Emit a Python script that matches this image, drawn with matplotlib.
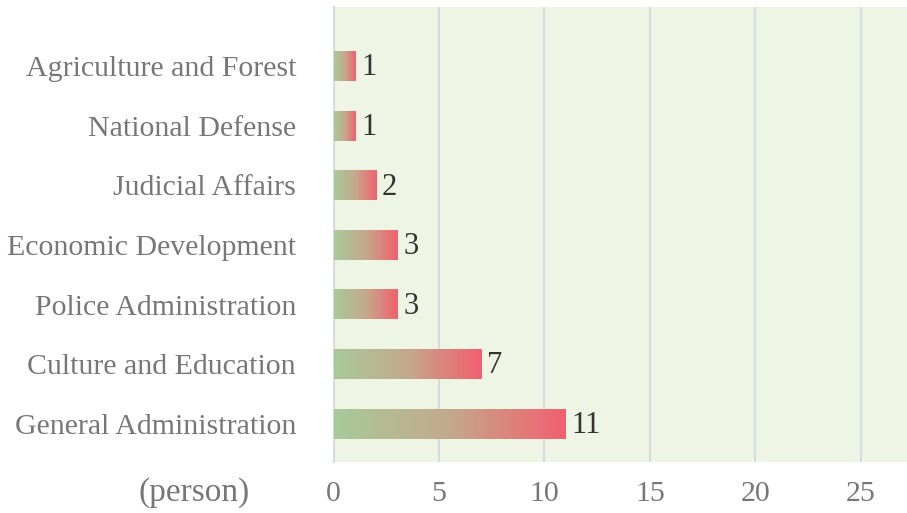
import matplotlib.pyplot as plt
import numpy as np
from matplotlib.colors import LinearSegmentedColormap

categories = ['General Administration', 'Culture and Education', 'Police Administration',
              'Economic Development', 'Judicial Affairs', 'National Defense',
              'Agriculture and Forest']
counts = [11, 7, 3, 3, 2, 1, 1]
xticks = [0, 5, 10, 15, 20, 25]

plt.rcParams['font.family'] = ['Liberation Serif', 'DejaVu Serif']

fig = plt.figure(figsize=(9.07, 5.13), dpi=100)
ax = fig.add_axes([0.3677, 0.0994, 0.6323, 0.887])
ax.set_facecolor('#EEF5E4')

cmap = LinearSegmentedColormap.from_list('gr', ['#A8CA9B', '#C4A98C', '#F2606F'])
grad = np.linspace(0, 1, 256).reshape(1, -1)
bar_h = 0.5

for i, v in enumerate(counts):
    ax.imshow(grad, cmap=cmap, aspect='auto', extent=[0, v, i - bar_h / 2, i + bar_h / 2],
              zorder=3, interpolation='bilinear')
    ax.text(v + 0.3, i - 0.03, str(v), va='center', ha='left', fontsize=22, color='#333333', zorder=4)

ax.set_xlim(0, 27.2)
ax.set_ylim(-0.64, 6.99)
ax.set_xticks(xticks)
ax.set_yticks(range(len(counts)))
ax.set_yticklabels(categories)
ax.tick_params(axis='both', length=0, labelsize=21.5, labelcolor='#777777')
ax.tick_params(axis='y', pad=27)
ax.tick_params(axis='x', pad=14)
ax.grid(axis='x', color='#D5DCE4', linewidth=1.5, zorder=0)
ax.set_axisbelow(True)
for s in ['top', 'right', 'bottom']:
    ax.spines[s].set_visible(False)
ax.spines['left'].set_color('#D5DCE4')
ax.spines['left'].set_linewidth(1.5)

fig.text(194 / 907, 1 - 493 / 513, '(person)', ha='center', va='center', fontsize=24, color='#777777')

fig.savefig('out.png', dpi=100)
